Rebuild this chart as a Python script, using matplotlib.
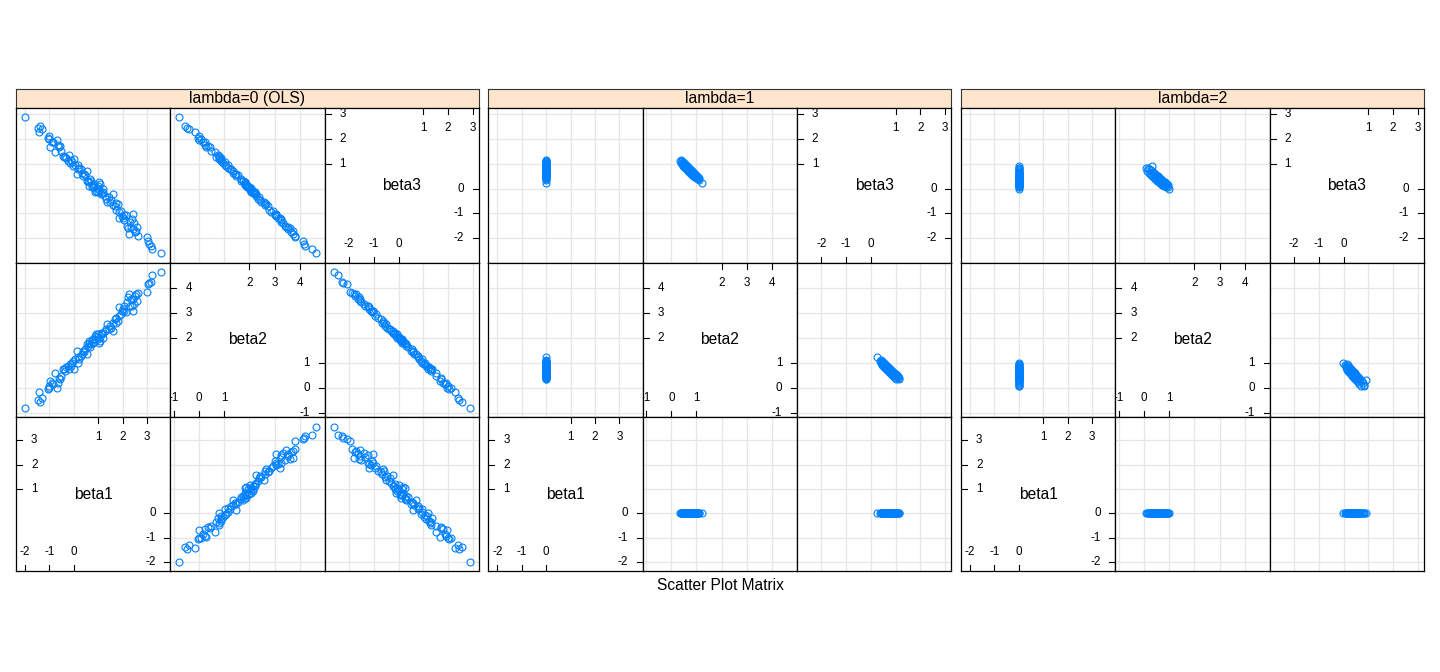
import matplotlib
matplotlib.use("Agg")
import matplotlib.pyplot as plt
from matplotlib.transforms import blended_transform_factory

plt.rcParams['font.family'] = ['Liberation Sans', 'DejaVu Sans']

var_names = ['beta1', 'beta2', 'beta3']
packet_labels = ['lambda=0 (OLS)', 'lambda=1', 'lambda=2']

# lambda = 0 (OLS)
beta1_ols = [-1.99, -1.44, -1.48, -1.37, -1.30, -1.04, -1.00, -0.91, -0.96, -0.76,
             -0.70, -0.66, -0.62, -0.53, -0.46, -0.36, -0.32, -0.25, -0.18, -0.14,
             -0.08, -0.02, 0.02, 0.06, 0.12, 0.17, 0.23, 0.29, 0.33, 0.39,
             0.46, 0.53, 0.57, 0.61, 0.64, 0.70, 0.77, 0.80, 0.85, 0.91,
             0.95, 0.99, 1.05, 1.09, 1.14, 1.21, 1.26, 1.32, 1.36, 1.43,
             1.48, 1.52, 1.59, 1.62, 1.69, 1.73, 1.80, 1.84, 1.86, 1.93,
             1.97, 2.03, 2.07, 2.14, 2.18, 2.22, 2.27, 2.30, 2.37, 2.41,
             2.44, 2.48, 2.52, 2.55, 2.59, 2.64, 2.98, 3.04, 3.09, 3.16,
             3.20, 3.55, 0.54, 0.66, 0.74, 0.84, 0.98, 1.11, 1.18, 1.02,
             0.43, 0.16, -0.11, -0.39, -0.55, -0.84, -1.00, 1.73, 2.07, 2.34]
beta2_ols = [-0.78, -0.14, -0.48, -0.54, -0.38, -0.05, 0.01, 0.22, 0.29, 0.62,
             0.02, 0.22, 0.42, 0.48, 0.78, 0.68, 0.86, 0.88, 0.75, 0.95,
             1.02, 1.08, 0.78, 1.15, 1.48, 1.02, 1.15, 1.28, 1.35, 1.48,
             1.55, 1.35, 1.68, 1.81, 1.88, 1.75, 1.81, 1.97, 2.08, 2.14,
             2.05, 1.95, 2.01, 1.88, 2.14, 2.21, 2.28, 2.34, 2.57, 2.37,
             2.48, 2.41, 2.28, 2.61, 2.74, 2.77, 2.68, 2.88, 3.21, 2.94,
             3.07, 3.14, 3.27, 3.01, 3.41, 3.61, 3.74, 3.27, 3.27, 3.07,
             3.54, 3.34, 3.67, 3.74, 3.47, 3.80, 3.83, 4.14, 4.18, 4.20,
             4.50, 4.63, 1.75, 1.65, 1.92, 1.84, 2.14, 2.21, 2.01, 1.81,
             1.44, 1.22, 0.88, 0.78, 0.35, 0.15, 0.09, 2.61, 3.07, 3.54]
beta3_ols = [2.90, 2.30, 2.45, 2.55, 2.40, 2.05, 2.12, 1.90, 1.68, 1.50,
             1.95, 1.78, 1.70, 1.52, 1.32, 1.30, 1.22, 1.10, 1.35, 1.02,
             1.08, 0.90, 1.18, 0.95, 0.60, 0.94, 0.82, 0.80, 0.62, 0.50,
             0.55, 0.72, 0.30, 0.25, 0.10, 0.32, 0.15, 0.08, -0.12, -0.08,
             0.02, 0.12, -0.05, 0.18, -0.18, -0.15, -0.30, -0.40, -0.52, -0.35,
             -0.55, -0.45, -0.22, -0.65, -0.70, -0.85, -0.62, -0.95, -1.18, -0.90,
             -1.12, -1.20, -1.25, -1.08, -1.50, -1.58, -1.82, -1.35, -1.22, -1.02,
             -1.62, -1.40, -1.75, -1.70, -1.55, -1.90, -1.95, -2.10, -2.25, -2.30,
             -2.45, -2.62, 0.30, 0.38, 0.05, 0.18, -0.15, -0.22, 0.00, 0.25,
             0.58, 0.80, 1.15, 1.28, 1.72, 1.88, 2.00, -0.58, -1.05, -1.55]

# lambda = 1
beta1_l1 = [0, 0, 0, 0, 0, 0, 0, 0, 0, 0, 0, 0, 0, 0, 0, 0, 0, 0, 0, 0,
            0, 0, 0, 0, 0, 0, 0, 0, 0, 0, 0, 0, 0, 0, 0, 0, 0, 0, 0, 0,
            0, 0, 0, 0, 0, 0, 0, 0, 0, 0, 0, 0, 0, 0, 0, 0, 0, 0]
beta2_l1 = [0.35, 0.38, 0.40, 0.42, 0.44, 0.45, 0.47, 0.48, 0.50, 0.51,
            0.52, 0.54, 0.55, 0.56, 0.57, 0.58, 0.60, 0.61, 0.62, 0.63,
            0.64, 0.65, 0.66, 0.67, 0.68, 0.69, 0.70, 0.71, 0.72, 0.73,
            0.74, 0.75, 0.76, 0.77, 0.78, 0.79, 0.80, 0.81, 0.82, 0.83,
            0.84, 0.85, 0.86, 0.88, 0.89, 0.90, 0.92, 0.93, 0.95, 0.97,
            0.99, 1.01, 1.03, 1.05, 1.08, 1.10, 1.12, 1.23]
beta3_l1 = [1.12, 1.02, 1.14, 0.98, 1.10, 0.95, 1.08, 0.92, 1.04, 0.88,
            1.02, 0.86, 1.00, 0.84, 0.97, 0.82, 0.95, 0.79, 0.92, 0.76,
            0.90, 0.74, 0.88, 0.72, 0.86, 0.70, 0.84, 0.68, 0.81, 0.66,
            0.80, 0.64, 0.78, 0.62, 0.76, 0.60, 0.74, 0.58, 0.72, 0.56,
            0.70, 0.55, 0.68, 0.52, 0.65, 0.50, 0.62, 0.47, 0.58, 0.44,
            0.55, 0.42, 0.50, 0.40, 0.46, 0.36, 0.42, 0.24]

# lambda = 2
beta1_l2 = [0, 0, 0, 0, 0, 0, 0, 0, 0, 0, 0, 0, 0, 0, 0, 0, 0, 0, 0, 0,
            0, 0, 0, 0, 0, 0, 0, 0, 0, 0, 0, 0, 0, 0, 0, 0, 0, 0, 0, 0,
            0, 0, 0, 0, 0, 0, 0, 0, 0, 0, 0, 0]
beta2_l2 = [0.07, 0.10, 0.14, 0.18, 0.21, 0.24, 0.27, 0.29, 0.31, 0.33,
            0.35, 0.36, 0.38, 0.39, 0.41, 0.42, 0.44, 0.45, 0.46, 0.48,
            0.49, 0.50, 0.51, 0.53, 0.54, 0.55, 0.56, 0.58, 0.59, 0.60,
            0.61, 0.63, 0.64, 0.65, 0.66, 0.68, 0.69, 0.70, 0.72, 0.73,
            0.75, 0.76, 0.78, 0.80, 0.82, 0.84, 0.86, 0.88, 0.91, 0.94,
            0.97, 1.00]
beta3_l2 = [0.82, 0.72, 0.84, 0.64, 0.78, 0.58, 0.74, 0.55, 0.90, 0.50,
            0.68, 0.48, 0.64, 0.46, 0.62, 0.43, 0.60, 0.40, 0.57, 0.38,
            0.55, 0.36, 0.52, 0.33, 0.50, 0.31, 0.48, 0.29, 0.46, 0.26,
            0.43, 0.24, 0.41, 0.22, 0.38, 0.20, 0.36, 0.18, 0.34, 0.16,
            0.31, 0.14, 0.28, 0.12, 0.25, 0.10, 0.22, 0.08, 0.19, 0.06,
            0.14, -0.02]

packets = [
    {'beta1': beta1_ols, 'beta2': beta2_ols, 'beta3': beta3_ols},
    {'beta1': beta1_l1, 'beta2': beta2_l1, 'beta3': beta3_l1},
    {'beta1': beta1_l2, 'beta2': beta2_l2, 'beta3': beta3_l2},
]

var_limits = {'beta1': (-2.37, 3.95), 'beta2': (-1.14, 4.99), 'beta3': (-2.99, 3.25)}
var_ticks = {'beta1': [-2, -1, 0, 1, 2, 3],
             'beta2': [-1, 0, 1, 2, 3, 4],
             'beta3': [-2, -1, 0, 1, 2, 3]}

W, H = 1440, 672
fig = plt.figure(figsize=(W / 100, H / 100), dpi=100)

panel_left = [16, 488.3, 961]
top = 108.3
S = 154.3
strip_h = 19.8
point_col = '#0080ff'
grid_col = '#e6e6e6'


def fig_rect(x, y, w, h):
    return [x / W, 1 - (y + h) / H, w / W, h / H]


def draw_diag(ax, v):
    lo, hi = var_limits[v]
    mid = (lo + hi) / 2
    bx = blended_transform_factory(ax.transData, ax.transAxes)
    by = blended_transform_factory(ax.transAxes, ax.transData)
    tl = 6 / S
    for t in var_ticks[v]:
        if t < mid:
            ax.plot([t, t], [0, tl], transform=bx, color='black', lw=0.8)
            ax.text(t, 0.123, str(t), transform=bx, ha='center', va='center',
                    fontsize=8.4, clip_on=True)
            ax.plot([1 - tl, 1], [t, t], transform=by, color='black', lw=0.8)
            ax.text(0.905, t, str(t), transform=by, ha='right', va='center',
                    fontsize=8.4, clip_on=True)
        else:
            ax.plot([t, t], [1 - tl, 1], transform=bx, color='black', lw=0.8)
            ax.text(t, 0.87, str(t), transform=bx, ha='center', va='center',
                    fontsize=8.4, clip_on=True)
            ax.plot([0, tl], [t, t], transform=by, color='black', lw=0.8)
            ax.text(0.097, t, str(t), transform=by, ha='left', va='center',
                    fontsize=8.4, clip_on=True)
    ax.text(0.5, 0.5, v, transform=ax.transAxes, ha='center', va='center',
            fontsize=11.2)


for p, data in enumerate(packets):
    x0 = panel_left[p]
    # strip
    sax = fig.add_axes(fig_rect(x0, top - strip_h, 3 * S, strip_h))
    sax.set_facecolor('#ffe5cc')
    sax.set_xticks([])
    sax.set_yticks([])
    for sp in sax.spines.values():
        sp.set_linewidth(0.8)
        sp.set_color('#333333')
    sax.text(0.5, 0.5, packet_labels[p], transform=sax.transAxes,
             ha='center', va='center', fontsize=11.3)

    for r in range(3):
        for c in range(3):
            ax = fig.add_axes(fig_rect(x0 + c * S, top + r * S, S, S))
            xv = var_names[c]
            yv = var_names[2 - r]
            ax.set_xlim(var_limits[xv])
            ax.set_ylim(var_limits[yv])
            ax.set_xticks([])
            ax.set_yticks([])
            for sp in ax.spines.values():
                sp.set_linewidth(0.9)
            if c == 2 - r:
                draw_diag(ax, xv)
            else:
                for t in var_ticks[xv]:
                    ax.axvline(t, color=grid_col, lw=0.9, zorder=0)
                for t in var_ticks[yv]:
                    ax.axhline(t, color=grid_col, lw=0.9, zorder=0)
                ax.plot(data[xv], data[yv], 'o', ms=5, mfc='none',
                        mec=point_col, mew=0.8)

fig.text(0.5, 1 - 585 / H, 'Scatter Plot Matrix', ha='center', va='center',
         fontsize=11.2)

fig.savefig('out.png', dpi=100)
